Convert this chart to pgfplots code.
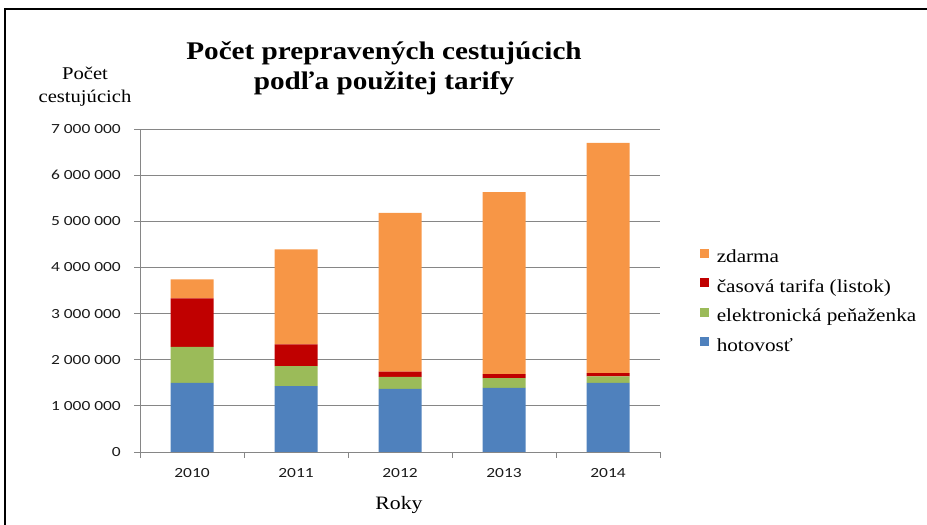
\documentclass[border=0pt]{standalone}
\usepackage{pgfplots}
\pgfplotsset{compat=1.18}
\usepackage{fontspec}
\setmainfont{Liberation Serif}[FakeStretch=1.15]
\newfontfamily\tickfont[FakeStretch=1.25]{Carlito}
\definecolor{cBlue}{HTML}{4F81BD}
\definecolor{cGreen}{HTML}{9BBB59}
\definecolor{cRed}{HTML}{C00000}
\definecolor{cOrange}{HTML}{F79646}
\definecolor{axisgray}{HTML}{868686}
\definecolor{ticktext}{HTML}{1A1A1A}
\begin{document}
\begin{tikzpicture}[x=1bp,y=1bp]
\path[use as bounding box] (0,0) rectangle (927,525);
\draw[line width=1.6bp] (5,0) -- (5,516) -- (927,516);
\node[align=center,font=\fontsize{25.5}{30}\selectfont\bfseries] at (384,457) {Počet prepravených cestujúcich\\podľa použitej tarify};
\node[align=center,font=\fontsize{18}{23}\selectfont] at (85,438) {Počet\\cestujúcich};
\node[font=\fontsize{19}{23}\selectfont] at (399,20) {Roky};
\begin{axis}[
  at={(140bp,73bp)}, anchor=south west,
  scale only axis, width=520bp, height=323bp,
  xmin=-0.5, xmax=4.5, ymin=0, ymax=7000000,
  scaled y ticks=false,
  ybar stacked, bar width=43bp,
  axis x line*=bottom, axis y line*=left,
  axis line style={draw=axisgray, line width=0.8bp},
  xtick={-0.5,0.5,1.5,2.5,3.5,4.5},
  xticklabels={2010,2011,2012,2013,2014},
  x tick label as interval,
  ytick={0,1000000,2000000,3000000,4000000,5000000,6000000,7000000},
  yticklabels={0,1 000 000,2 000 000,3 000 000,4 000 000,5 000 000,6 000 000,7 000 000},
  tick align=outside, major tick length=6bp,
  tick style={draw=axisgray, line width=0.8bp},
  ymajorgrids, grid style={draw=axisgray, line width=0.8bp},
  ticklabel style={font=\fontsize{14}{16}\selectfont\tickfont, text=ticktext},
  yticklabel style={anchor=east, inner sep=0pt, xshift=-13bp},
  xticklabel style={anchor=north, inner sep=0pt, yshift=-10bp},
  legend style={at={(1.077,0.466)}, anchor=west, draw=none, fill=none,
    inner sep=0pt, font=\fontsize{18.5}{22}\selectfont, row sep=12bp,
    nodes={inner sep=1.5bp}},
  legend cell align=left,
  reverse legend,
  clip=false,
]
\addplot[fill=cBlue, draw=none, legend image code/.code={\fill[cBlue] (0bp,-0.5bp) rectangle (9bp,8.5bp); \path (15bp,0bp);}]
  coordinates {(0,1500000) (1,1430000) (2,1370000) (3,1390000) (4,1500000)};
\addplot[fill=cGreen, draw=none, legend image code/.code={\fill[cGreen] (0bp,-0.5bp) rectangle (9bp,8.5bp); \path (15bp,0bp);}]
  coordinates {(0,780000) (1,430000) (2,260000) (3,210000) (4,140000)};
\addplot[fill=cRed, draw=none, legend image code/.code={\fill[cRed] (0bp,-0.5bp) rectangle (9bp,8.5bp); \path (15bp,0bp);}]
  coordinates {(0,1050000) (1,470000) (2,110000) (3,90000) (4,70000)};
\addplot[fill=cOrange, draw=none, legend image code/.code={\fill[cOrange] (0bp,-0.5bp) rectangle (9bp,8.5bp); \path (15bp,0bp);}]
  coordinates {(0,410000) (1,2060000) (2,3440000) (3,3940000) (4,4990000)};
\legend{hotovosť,elektronická peňaženka,časová tarifa (listok),zdarma}
\end{axis}
\end{tikzpicture}
\end{document}
